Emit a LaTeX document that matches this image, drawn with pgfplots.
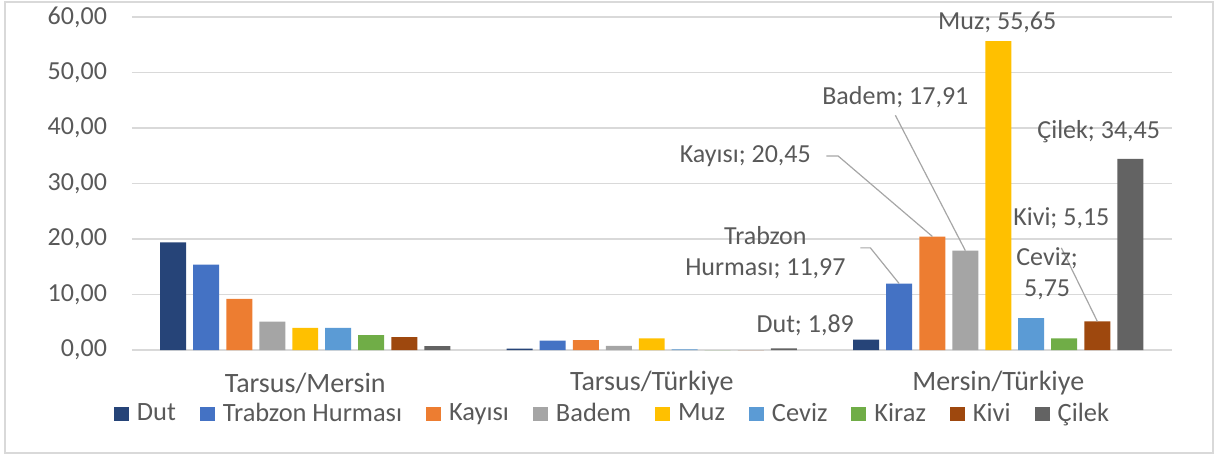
\documentclass[border=0pt]{standalone}
\usepackage{fontspec}
\setmainfont{Carlito}
\usepackage{pgfplots}
\pgfplotsset{compat=1.18}
\definecolor{cDut}{HTML}{264478}
\definecolor{cTra}{HTML}{4472C4}
\definecolor{cKay}{HTML}{ED7D31}
\definecolor{cBad}{HTML}{A5A5A5}
\definecolor{cMuz}{HTML}{FFC000}
\definecolor{cCev}{HTML}{5B9BD5}
\definecolor{cKir}{HTML}{70AD47}
\definecolor{cKiv}{HTML}{9E480E}
\definecolor{cCil}{HTML}{636363}
\definecolor{txt}{HTML}{595959}
\definecolor{gridc}{HTML}{D9D9D9}
\definecolor{lead}{HTML}{A6A6A6}
\newcommand{\f}{\fontsize{13}{15.5}\selectfont}
\newcommand{\fl}{\fontsize{13.2}{15.5}\selectfont}
\newcommand{\fc}{\fontsize{14}{16}\selectfont}
\pgfplotsset{
  mybar/.style={draw=none, fill=#1, bar width=0.075,
    legend image code/.code={\fill[#1] (0pt,-3.6pt) rectangle (7.5pt,3.6pt);}},
}
\begin{document}
\begin{tikzpicture}[x=1pt,y=1pt]
\useasboundingbox (-66,-52.5) rectangle (541.5,175);
\draw[gridc, line width=1pt] (-63.5,-51.3) rectangle (540.5,174);
\begin{axis}[
  at={(0,0)}, anchor=south west,
  scale only axis, width=519.75pt, height=166.5pt,
  xmin=-0.5, xmax=2.5, ymin=0, ymax=60,
  ybar, clip=false,
  ytick={0,10,...,60},
  xtick={0,1,2},
  xticklabels={Tarsus/Mersin, Tarsus/Türkiye, Mersin/Türkiye},
  ymajorgrids, grid style={gridc, line width=0.75pt},
  axis line style={draw=none}, major tick length=0pt,
  tick label style={font=\f, text=txt},
  xticklabel style={anchor=center, yshift=-16.5pt, font=\fc},
  yticklabel style={anchor=east, xshift=-9pt},
  /pgf/number format/.cd, fixed, fixed zerofill, precision=2, use comma, assume math mode=true,
  /pgfplots/.cd,
  legend columns=-1,
  legend style={draw=none, fill=none, font=\fl, text=txt,
    at={(0.4632,-0.192)}, anchor=center,
    /tikz/every even column/.append style={column sep=10pt},
    /tikz/every odd column/.append style={column sep=2pt}},
]
\addplot[mybar=cDut, bar shift=-0.381] coordinates {(0,19.4) (1,0.25) (2,1.89)};
\addplot[mybar=cTra, bar shift=-0.286] coordinates {(0,15.4) (1,1.7) (2,11.97)};
\addplot[mybar=cKay, bar shift=-0.190] coordinates {(0,9.2) (1,1.8) (2,20.45)};
\addplot[mybar=cBad, bar shift=-0.095] coordinates {(0,5.1) (1,0.75) (2,17.91)};
\addplot[mybar=cMuz, bar shift=0] coordinates {(0,4.0) (1,2.1) (2,55.65)};
\addplot[mybar=cCev, bar shift=0.095] coordinates {(0,4.0) (1,0.1) (2,5.75)};
\addplot[mybar=cKir, bar shift=0.190] coordinates {(0,2.7) (1,0) (2,2.1)};
\addplot[mybar=cKiv, bar shift=0.286] coordinates {(0,2.3) (1,0) (2,5.15)};
\addplot[mybar=cCil, bar shift=0.381] coordinates {(0,0.7) (1,0.3) (2,34.45)};
\legend{Dut, Trabzon Hurması, Kayısı, Badem, Muz, Ceviz, Kiraz, Kivi, Çilek}
% leader lines
\draw[lead, line width=0.6pt] (axis cs:1.703,42.3) -- (axis cs:1.905,17.91);
\draw[lead, line width=0.6pt] (axis cs:1.504,34.95) -- (axis cs:1.538,34.95) -- (axis cs:1.810,20.45);
\draw[lead, line width=0.6pt] (axis cs:1.602,18.4) -- (axis cs:1.631,18.4) -- (axis cs:1.714,11.97);
\draw[lead, line width=0.6pt] (axis cs:2.182,18.4) -- (axis cs:2.286,5.15);
% labels
\node[font=\f, text=txt] at (axis cs:1.997,59.1) {Muz; 55,65};
\node[font=\f, text=txt] at (axis cs:1.703,45.6) {Badem; 17,91};
\node[font=\f, text=txt] at (axis cs:1.270,34.95) {Kayısı; 20,45};
\node[font=\f, text=txt, align=center] at (axis cs:1.328,17.5) {Trabzon\\Hurması; 11,97};
\node[font=\f, text=txt] at (axis cs:1.443,4.5) {Dut; 1,89};
\node[font=\f, text=txt, align=center] at (axis cs:2.141,13.7) {Ceviz;\\5,75};
\node[font=\f, text=txt] at (axis cs:2.182,23.8) {Kivi; 5,15};
\node[font=\f, text=txt] at (axis cs:2.290,39.3) {Çilek; 34,45};
\end{axis}
\end{tikzpicture}
\end{document}
